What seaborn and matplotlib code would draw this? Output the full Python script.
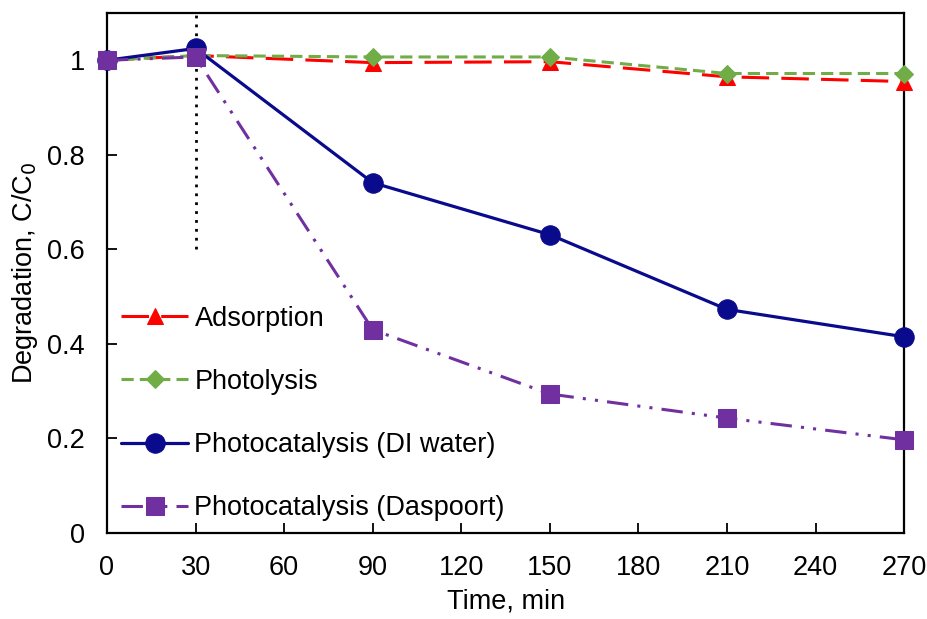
import matplotlib
matplotlib.use("Agg")
import matplotlib.pyplot as plt
import seaborn as sns
import pandas as pd

time = [0, 30, 90, 150, 210, 270]
adsorption = [1.0, 1.01, 0.995, 0.997, 0.965, 0.955]
photolysis = [1.0, 1.01, 1.007, 1.007, 0.972, 0.972]
di_water = [1.0, 1.025, 0.741, 0.631, 0.473, 0.415]
daspoort = [1.0, 1.007, 0.43, 0.294, 0.243, 0.197]
labels = ["Adsorption", "Photolysis", "Photocatalysis (DI water)", "Photocatalysis (Daspoort)"]
xticks = [0, 30, 60, 90, 120, 150, 180, 210, 240, 270]
yticks = [0, 0.2, 0.4, 0.6, 0.8, 1]
yticklabels = ["0", "0.2", "0.4", "0.6", "0.8", "1"]

sns.set_theme(style="white")
plt.rcParams['font.family'] = ['Liberation Sans', 'DejaVu Sans']
plt.rcParams['text.color'] = 'black'
plt.rcParams['axes.labelcolor'] = 'black'
FS = 19.5

fig = plt.figure(figsize=(9.28, 6.19), dpi=100)
ax = fig.add_axes([0.1153, 0.139, 0.859, 0.840])

# vertical dotted marker line at 30 min
ax.vlines(30, 0.6, 1.1, colors="black", linestyles=(0, (1, 2.2)), linewidth=2.0, zorder=1)

series = [
    (adsorption, "#FF0000", "^", 11, (0, (9, 4)), 2.2),
    (photolysis, "#70AD47", "D", 9, (0, (4, 2)), 2.2),
    (di_water, "#0A0A8C", "o", 14, "-", 2.3),
    (daspoort, "#7030A0", "s", 13, (0, (7, 3, 1, 3, 1, 3)), 2.2),
]
for (vals, color, mk, ms, ls, lw), lab in zip(series, labels):
    df = pd.DataFrame({"t": time, "v": vals})
    sns.lineplot(data=df, x="t", y="v", ax=ax, color=color, marker=mk,
                 markersize=ms, markeredgecolor=color, linestyle=ls,
                 linewidth=lw, label=lab, clip_on=False, zorder=3)

ax.set_xlim(0, 270)
ax.set_ylim(0, 1.1)
ax.set_xticks(xticks)
ax.set_xticklabels([str(x) for x in xticks])
ax.set_yticks(yticks)
ax.set_yticklabels(yticklabels)
ax.tick_params(direction="in", length=7, width=1.3, labelsize=FS, colors="black",
               bottom=True, left=True)
ax.tick_params(axis="x", pad=16)
ax.tick_params(axis="y", pad=16)
for s in ax.spines.values():
    s.set_color("black")
    s.set_linewidth(1.6)

ax.set_xlabel("Time, min", fontsize=FS, color="black", labelpad=5.5)
ax.set_ylabel("Degradation, C/C$_0$", fontsize=FS, color="black", labelpad=5)

leg = ax.legend(loc="center left", bbox_to_anchor=(0.018, 0.2298), frameon=False, fontsize=FS,
                labelspacing=1.37, handlelength=2.45, handletextpad=0.25, borderpad=0,
                borderaxespad=0)
for t in leg.get_texts():
    t.set_color("black")

fig.savefig("out.png", dpi=100)
